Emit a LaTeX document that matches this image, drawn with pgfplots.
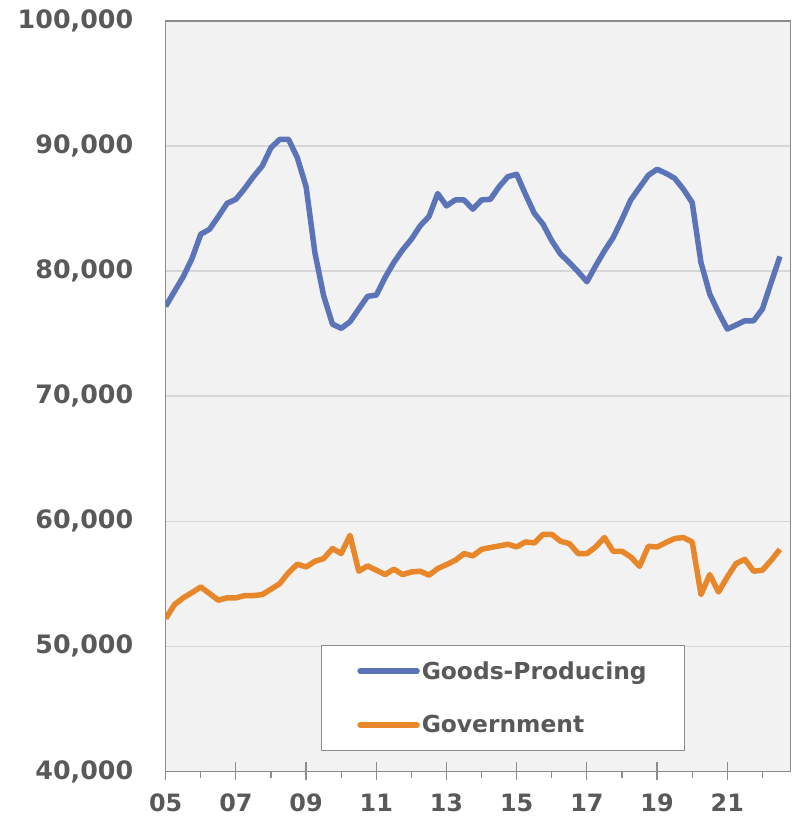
\documentclass[border=0pt]{standalone}
\usepackage{fontspec}
\setmainfont{DejaVu Sans}
\usepackage{pgfplots}
\pgfplotsset{compat=1.18}

\definecolor{gpblue}{HTML}{5B74B8}
\definecolor{govorange}{HTML}{E8872A}
\definecolor{txtgray}{HTML}{595959}
\definecolor{plotbg}{HTML}{F2F2F2}
\definecolor{gridgray}{HTML}{D6D6D6}
\definecolor{axgray}{HTML}{8C8C8C}

\begin{document}
\begin{tikzpicture}
\begin{axis}[
  scale only axis, width=626bp, height=752bp,
  xmin=5, xmax=22.8, ymin=40000, ymax=100000,
  axis background/.style={fill=plotbg},
  axis line style={axgray, line width=1.5bp},
  xtick={5,7,...,21}, xticklabels={05,07,09,11,13,15,17,19,21},
  minor xtick={6,8,...,22},
  xtick pos=bottom,
  tick align=center, major tick length=18bp, minor tick length=7bp,
  tick style={axgray, line width=1.2bp},
  minor tick style={yshift=-3.5bp},
  ytick={40000,50000,...,100000},
  ytick style={draw=none},
  ymajorgrids, grid style={gridgray, line width=1.5bp},
  scaled y ticks=false,
  /pgf/number format/1000 sep={,},
  /pgf/number format/fixed,
  /pgf/number format/assume math mode=true,
  ticklabel style={text=txtgray},
  yticklabel style={font=\fontsize{25.5}{30}\selectfont\bfseries, xshift=-20bp},
  xticklabel style={font=\fontsize{24}{28}\selectfont\bfseries, yshift=-10bp},
  legend style={at={(axis description cs:0.249,0.0279)}, anchor=south west,
    draw=axgray, fill=white, font=\fontsize{23.5}{28}\selectfont\bfseries,
    text=txtgray, inner xsep=36bp, inner ysep=14bp, row sep=31bp},
  legend cell align=left,
  legend image code/.code={\draw[#1, line cap=round] (0bp,0bp) -- (57bp,0bp);},
]
\addplot[gpblue, line width=5.5bp, line join=round] coordinates {
(5.00,77180) (5.25,78380) (5.50,79550) (5.75,81010) (6.00,82950) (6.25,83350)
(6.50,84360) (6.75,85420) (7.00,85740) (7.25,86600) (7.50,87550) (7.75,88400)
(8.00,89870) (8.25,90530) (8.50,90530) (8.75,89070) (9.00,86750) (9.25,81490)
(9.50,78030) (9.75,75770) (10.00,75420) (10.25,75950) (10.50,76970) (10.75,77980)
(11.00,78080) (11.25,79490) (11.50,80690) (11.75,81700) (12.00,82550) (12.25,83620)
(12.50,84360) (12.75,86200) (13.00,85210) (13.25,85690) (13.50,85690) (13.75,84950)
(14.00,85690) (14.25,85740) (14.50,86750) (14.75,87550) (15.00,87740) (15.25,86140)
(15.50,84630) (15.75,83750) (16.00,82420) (16.25,81360) (16.50,80690) (16.75,79950)
(17.00,79150) (17.25,80420) (17.50,81620) (17.75,82690) (18.00,84150) (18.25,85690)
(18.50,86680) (18.75,87660) (19.00,88140) (19.25,87820) (19.50,87420) (19.75,86540)
(20.00,85480) (20.25,80690) (20.50,78160) (20.75,76700) (21.00,75370) (21.25,75690)
(21.50,76030) (21.75,76030) (22.00,76970) (22.25,79090) (22.50,81170)
};
\addlegendentry{Goods-Producing}
\addplot[govorange, line width=5.5bp, line join=round] coordinates {
(5.00,52220) (5.25,53340) (5.50,53880) (5.75,54300) (6.00,54750) (6.25,54220)
(6.50,53690) (6.75,53880) (7.00,53880) (7.25,54060) (7.50,54060) (7.75,54140)
(8.00,54570) (8.25,55020) (8.50,55900) (8.75,56570) (9.00,56350) (9.25,56800)
(9.50,57020) (9.75,57820) (10.00,57420) (10.25,58880) (10.50,56010) (10.75,56430)
(11.00,56090) (11.25,55740) (11.50,56170) (11.75,55740) (12.00,55950) (12.25,56010)
(12.50,55690) (12.75,56220) (13.00,56540) (13.25,56880) (13.50,57420) (13.75,57230)
(14.00,57760) (14.25,57900) (14.50,58030) (14.75,58160) (15.00,57950) (15.25,58350)
(15.50,58270) (15.75,58960) (16.00,58960) (16.25,58400) (16.50,58220) (16.75,57420)
(17.00,57420) (17.25,57950) (17.50,58700) (17.75,57600) (18.00,57600) (18.25,57150)
(18.50,56400) (18.75,58000) (19.00,57950) (19.25,58300) (19.50,58620) (19.75,58700)
(20.00,58350) (20.25,54140) (20.50,55740) (20.75,54350) (21.00,55550) (21.25,56620)
(21.50,56960) (21.75,56010) (22.00,56090) (22.25,56880) (22.50,57760)
};
\addlegendentry{Government}
\coordinate (bbsw) at (axis description cs:-0.2652,-0.0660);
\coordinate (bbne) at (axis description cs:1.0080,1.0279);
\end{axis}
\path (bbsw) rectangle (bbne);
\end{tikzpicture}
\end{document}
